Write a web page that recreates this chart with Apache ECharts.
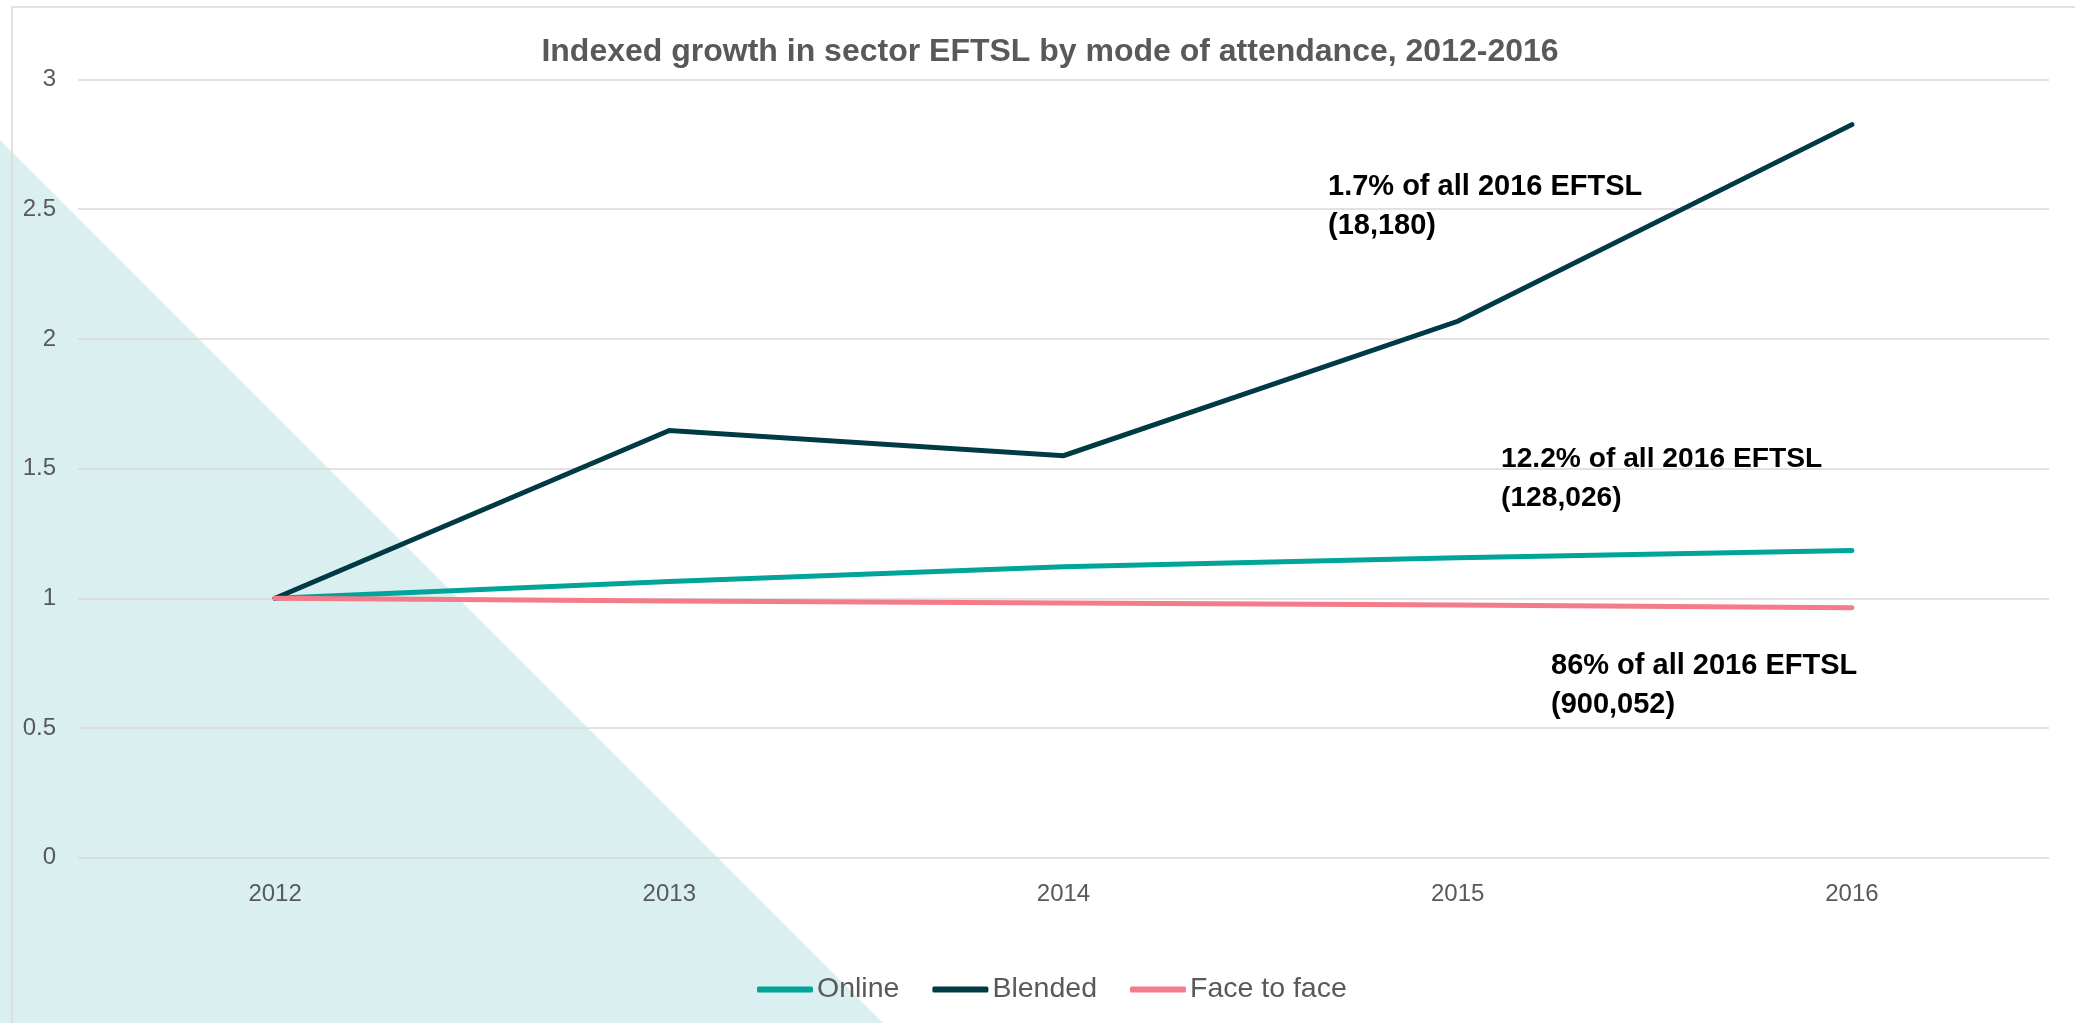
<!DOCTYPE html>
<html>
<head>
<meta charset="utf-8">
<script src="https://cdn.jsdelivr.net/npm/echarts@6/dist/echarts.min.js"></script>
<style>
  html, body { margin: 0; padding: 0; background: #ffffff; }
  #chart { width: 2075px; height: 1023px; }
</style>
</head>
<body>
<div id="chart"></div>
<script>
// ---- Data ----
const titleText = 'Indexed growth in sector EFTSL by mode of attendance, 2012-2016';
const categories = ['2012', '2013', '2014', '2015', '2016'];
const seriesNames = ['Online', 'Blended', 'Face to face'];
const online = [1, 1.065, 1.122, 1.156, 1.184];
const blended = [1, 1.647, 1.55, 2.068, 2.826];
const faceToFace = [1, 0.99, 0.982, 0.974, 0.964];
const yMin = 0, yMax = 3, yStep = 0.5;
const annotations = [
  '1.7% of all 2016 EFTSL\n(18,180)',
  '12.2% of all 2016 EFTSL\n(128,026)',
  '86% of all 2016 EFTSL\n(900,052)'
];

// ---- Styles ----
const FONT = '"Liberation Sans", Arial, Helvetica, sans-serif';
const GRAY = '#595959';
const GRID = '#d9d9d9';
const colors = ['#00a499', '#003a45', '#f37b8a'];
const annoPos = [[1328, 167], [1501, 440], [1551, 646]];
const annoSize = [29, 28.2, 29];

const chart = echarts.init(document.getElementById('chart'), null, { renderer: 'canvas' });

const graphics = [
  {
    type: 'polygon', z: -10, silent: true,
    shape: { points: [[0, 140], [0, 1030], [890, 1030]] },
    style: { fill: '#daefef' }
  },
  {
    type: 'rect', z: -5, silent: true,
    shape: { x: 12, y: 7, width: 2100, height: 1100 },
    style: { fill: 'none', stroke: GRID, lineWidth: 1.5 }
  }
];
annotations.forEach((t, i) => {
  graphics.push({
    type: 'text', z: 10, silent: true,
    x: annoPos[i][0], y: annoPos[i][1],
    style: {
      text: t, fill: '#000000', fontFamily: FONT, fontWeight: 'bold',
      fontSize: annoSize[i], lineHeight: 39, verticalAlign: 'top'
    }
  });
});

const mk = (name, data, color) => ({
  name, type: 'line', data,
  symbol: 'none', smooth: false,
  lineStyle: { color, width: 5, cap: 'round', join: 'miter' },
  itemStyle: { color },
  emphasis: { disabled: true },
  z: 3
});

chart.setOption({
  animation: false,
  backgroundColor: 'transparent',
  textStyle: { fontFamily: FONT },
  title: {
    text: titleText,
    left: 1045, top: 31, textAlign: 'center',
    textStyle: { color: GRAY, fontSize: 32, fontWeight: 'bold', fontFamily: FONT }
  },
  graphic: graphics,
  legend: {
    data: seriesNames,
    left: 752, top: 970,
    icon: 'roundRect',
    itemWidth: 56, itemHeight: 6,
    itemGap: 33,
    textStyle: { color: GRAY, fontSize: 28.5, fontFamily: FONT, padding: [0, 0, 0, -1] }
  },
  grid: { left: 78, right: 26, top: 79.5, bottom: 165.3, containLabel: false },
  xAxis: {
    type: 'category',
    data: categories,
    boundaryGap: true,
    axisLine: { show: false },
    axisTick: { show: false },
    axisLabel: { color: GRAY, fontSize: 24, fontFamily: FONT, margin: 25 },
    splitLine: { show: false }
  },
  yAxis: {
    type: 'value',
    min: yMin, max: yMax, interval: yStep,
    axisLine: { show: false },
    axisTick: { show: false },
    axisLabel: { color: GRAY, fontSize: 24, fontFamily: FONT, margin: 22, padding: [4, 0, 0, 0] },
    splitLine: { show: true, lineStyle: { color: GRID, width: 1.6 } }
  },
  series: [
    mk(seriesNames[0], online, colors[0]),
    mk(seriesNames[1], blended, colors[1]),
    mk(seriesNames[2], faceToFace, colors[2])
  ]
});
</script>
</body>
</html>
